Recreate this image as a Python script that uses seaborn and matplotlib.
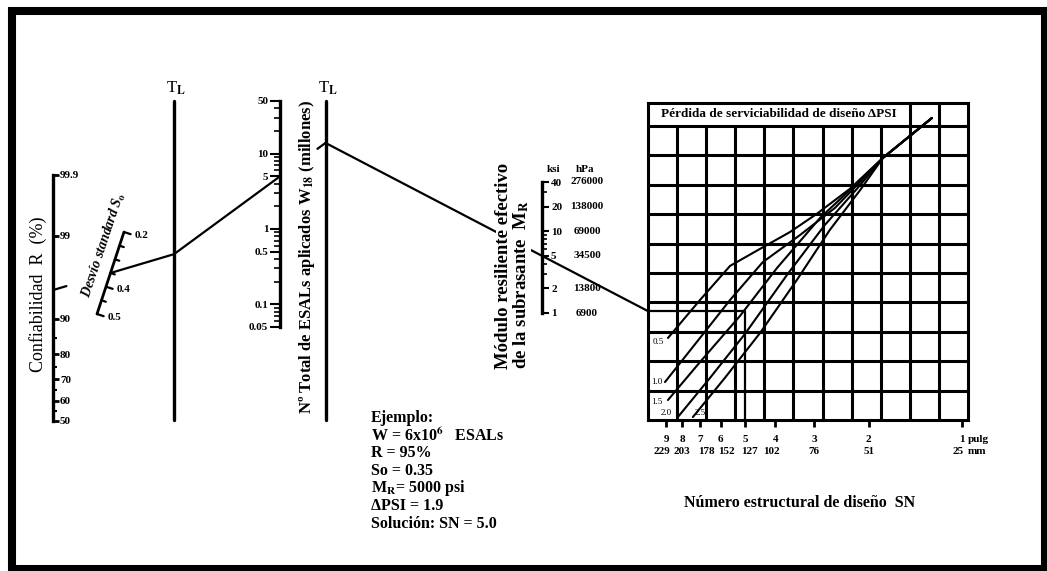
import matplotlib
matplotlib.use("Agg")
import matplotlib.pyplot as plt
import matplotlib.ticker as mticker
from matplotlib.patches import Rectangle
import numpy as np
import pandas as pd
import seaborn as sns
from statistics import NormalDist

reliability_major = [50, 60, 70, 80, 90, 99, 99.9]
reliability_minor = [55, 65, 75, 85]
so_ticks = [0.2, 0.25, 0.3, 0.35, 0.4, 0.45, 0.5]
so_labelled = [0.2, 0.4, 0.5]
esal_major = [0.05, 0.1, 0.5, 1, 5, 10, 50]
mr_ksi = [1, 2, 5, 10, 20, 40]
mr_hpa = ["6900", "13800", "34500", "69000", "138000", "276000"]
sn_ticks = [9, 8, 7, 6, 5, 4, 3, 2, 1]
sn_mm = ["229", "203", "178", "152", "127", "102", "76", "51", "25"]

# design serviceability loss curves: SN and pivot row (grid rows from bottom)
psi_levels = ["0.5", "1.0", "1.5", "2.0", "2.5"]
psi_05_sn = [8.88, 7.00, 5.60, 4.48, 3.59, 2.94, 2.30, 1.80, 1.25]
psi_05_row = [2.79, 4.08, 5.24, 5.82, 6.39, 7.01, 7.86, 8.91, 10.27]
psi_10_sn = [9.08, 7.00, 5.60, 4.39, 3.33, 2.57, 2.13, 1.80, 1.25]
psi_10_row = [1.29, 2.79, 4.08, 5.37, 6.29, 7.21, 8.10, 8.91, 10.27]
psi_15_sn = [8.88, 7.00, 5.20, 3.95, 2.87, 2.21, 1.80, 1.25]
psi_15_row = [0.68, 1.97, 3.54, 5.17, 6.87, 7.99, 8.91, 10.27]
psi_20_sn = [8.25, 6.50, 5.01, 3.67, 2.77, 2.17, 1.80, 1.25]
psi_20_row = [0.10, 1.43, 2.93, 4.93, 6.63, 7.89, 8.91, 10.27]
psi_25_sn = [7.38, 5.82, 4.48, 3.41, 2.67, 2.13, 1.80, 1.25]
psi_25_row = [0.10, 1.43, 2.96, 4.76, 6.46, 7.82, 8.91, 10.27]

# worked example
ex_R = 95
ex_So = 0.35
ex_W18 = 5        # where the drawn line crosses the ESAL scale
ex_MR = 5
ex_SN = 5.0
example_text = ["Ejemplo:", "W = 6x10$^{6}$   ESALs", "R = 95%", "So = 0.35",
                "M$_{R}$= 5000 psi", "\u0394PSI = 1.9", "Soluci\u00f3n: SN = 5.0"]

# ---- page layout (pixels) ----
W_PX, H_PX = 1047, 571
REL_X, REL_TOP, REL_BOT = 53, 175, 421
SO_P02, SO_P05 = np.array([124.0, 232.0]), np.array([97.0, 314.0])
TL1_X, TL2_X, TL_TOP = 174, 325.5, 101
ESAL_X, ESAL_TOP, ESAL_BOT = 280, 101, 327
MR_X, MR_TOP, MR_BOT = 542, 182, 313
GRID_L, GRID_T, GRID_R, GRID_B = 648, 103, 968, 420
LINE_W = 1.6
mm_offsets = [-4, 0, 6, 6, 4, -4, 0, 0, -4]   # spread of the mm label row
label_offsets = [(-10, -4), (-8, 0), (-11, -2), (-12, 4), (7, 4)]

sns.set_theme(style="white", rc={"axes.edgecolor": "black", "text.color": "black",
                                 "xtick.color": "black", "ytick.color": "black"})
plt.rcParams["font.family"] = ["Liberation Serif", "DejaVu Serif"]
plt.rcParams["font.weight"] = "bold"
plt.rcParams["mathtext.fontset"] = "stix"
plt.rcParams["mathtext.default"] = "bf"

fig = plt.figure(figsize=(W_PX / 100, H_PX / 100), dpi=100)
main = fig.add_axes([0, 0, 1, 1])
main.set_xlim(0, W_PX)
main.set_ylim(H_PX, 0)
main.axis("off")


def px_axes(left, top, right, bottom):
    a = fig.add_axes([left / W_PX, 1 - bottom / H_PX,
                      (right - left) / W_PX, (bottom - top) / H_PX])
    a.patch.set_visible(False)
    for s in a.spines.values():
        s.set_visible(False)
    return a


def on_page(ax, side, value):
    disp = ax.get_yaxis_transform().transform((side, value))
    return main.transData.inverted().transform(disp)


def at_x(p, q, x):
    return np.array([x, p[1] + (x - p[0]) * (q[1] - p[1]) / (q[0] - p[0])])


fmt_g = mticker.FuncFormatter(lambda v, _: f"{v:g}")

# ---- reliability scale (normal probability scale) ----
nd = NormalDist()
rel_fwd = np.vectorize(lambda v: nd.inv_cdf(min(max(v, 1e-6), 100 - 1e-6) / 100), otypes=[float])
rel_inv = np.vectorize(lambda v: nd.cdf(v) * 100, otypes=[float])
ax_rel = px_axes(REL_X - 1, REL_TOP, REL_X, REL_BOT)
ax_rel.set_yscale("function", functions=(rel_fwd, rel_inv))
ax_rel.set_ylim(50, 99.9)
ax_rel.set_xticks([])
ax_rel.spines["right"].set_visible(True)
ax_rel.spines["right"].set_linewidth(2.4)
ax_rel.yaxis.tick_right()
ax_rel.yaxis.set_major_locator(mticker.FixedLocator(reliability_major))
ax_rel.yaxis.set_major_formatter(fmt_g)
ax_rel.yaxis.set_minor_locator(mticker.FixedLocator(reliability_minor))
ax_rel.yaxis.set_minor_formatter(mticker.NullFormatter())
ax_rel.tick_params(axis="y", which="major", direction="out", length=4, width=2,
                   labelsize=8, pad=1, right=True, left=False)
ax_rel.tick_params(axis="y", which="minor", direction="out", length=3, width=1.5,
                   right=True, left=False)
main.text(38, 294, "Confiabilidad  R  (%)", rotation=90, ha="center", va="center",
          fontsize=13, fontweight="normal")

# ---- standard deviation scale (slanted) ----
so_dir = (SO_P05 - SO_P02) / np.linalg.norm(SO_P05 - SO_P02)
so_perp = np.array([so_dir[1], -so_dir[0]])


def so_point(s):
    return SO_P02 + (s - so_ticks[0]) / (so_ticks[-1] - so_ticks[0]) * (SO_P05 - SO_P02)


ends = np.array([so_point(so_ticks[0]), so_point(so_ticks[-1])])
main.plot(ends[:, 0], ends[:, 1], color="black", lw=2)
for s in so_ticks:
    p = so_point(s)
    ln = 7 if s in so_labelled else 4.5
    q = p + so_perp * ln
    main.plot([p[0], q[0]], [p[1], q[1]], color="black", lw=1.6)
    if s in so_labelled:
        main.text(p[0] + 11, p[1] + 3, f"{s:g}", fontsize=8, ha="left", va="center")
main.text(104, 245, "Desv\u00edo standard S$_{o}$", rotation=71.5, ha="center", va="center",
          fontsize=10, fontstyle="italic")

# ---- turning lines ----
for x in (TL1_X, TL2_X):
    main.plot([x, x], [TL_TOP, GRID_B], color="black", lw=2.4)
    main.text(x + 2, 88, r"T$_\mathrm{L}$", ha="center", va="center", fontsize=12,
              fontweight="normal")

# ---- ESAL scale ----
ax_w = px_axes(ESAL_X, ESAL_TOP, ESAL_X + 1, ESAL_BOT)
ax_w.set_yscale("log")
ax_w.set_ylim(esal_major[0], esal_major[-1])
ax_w.set_xticks([])
ax_w.spines["left"].set_visible(True)
ax_w.spines["left"].set_linewidth(2.4)
ax_w.yaxis.tick_left()
ax_w.yaxis.set_major_locator(mticker.FixedLocator(esal_major))
ax_w.yaxis.set_major_formatter(fmt_g)
ax_w.yaxis.set_minor_locator(mticker.LogLocator(base=10, subs=np.arange(1, 10), numticks=30))
ax_w.yaxis.set_minor_formatter(mticker.NullFormatter())
ax_w.tick_params(axis="y", which="major", direction="out", length=7, width=1.5,
                 labelsize=8, pad=1.5, left=True)
ax_w.tick_params(axis="y", which="minor", direction="out", length=4, width=1.2, left=True)
main.text(307, 257, "N\u00ba Total de ESALs aplicados W$_{18}$ (millones)", rotation=90,
          ha="center", va="center", fontsize=12)

# ---- resilient modulus scale ----
ax_mr = px_axes(MR_X - 1, MR_TOP, MR_X, MR_BOT)
ax_mr.set_yscale("log")
ax_mr.set_ylim(mr_ksi[0], mr_ksi[-1])
ax_mr.set_xticks([])
ax_mr.spines["right"].set_visible(True)
ax_mr.spines["right"].set_linewidth(2.4)
ax_mr.yaxis.tick_right()
ax_mr.yaxis.set_major_locator(mticker.FixedLocator(mr_ksi))
ax_mr.yaxis.set_major_formatter(fmt_g)
ax_mr.yaxis.set_minor_locator(mticker.LogLocator(base=10, subs=np.arange(1, 10), numticks=30))
ax_mr.yaxis.set_minor_formatter(mticker.NullFormatter())
ax_mr.tick_params(axis="y", which="major", direction="out", length=5, width=1.5,
                  labelsize=8, pad=1.5, right=True, left=False)
ax_mr.tick_params(axis="y", which="minor", direction="out", length=3.5, width=1.2,
                  right=True, left=False)
for v, lab in zip(mr_ksi, mr_hpa):
    ax_mr.annotate(lab, xy=(1, v), xycoords=ax_mr.get_yaxis_transform(), xytext=(45, 0),
                   textcoords="offset pixels", ha="center", va="center", fontsize=8)
ax_mr.annotate("ksi", xy=(1, mr_ksi[-1]), xycoords=ax_mr.get_yaxis_transform(), xytext=(12, 12),
               textcoords="offset pixels", ha="center", va="center", fontsize=8)
ax_mr.annotate("hPa", xy=(1, mr_ksi[-1]), xycoords=ax_mr.get_yaxis_transform(), xytext=(43, 12),
               textcoords="offset pixels", ha="center", va="center", fontsize=8)
main.text(513, 266, "M\u00f3dulo resiliente efectivo\nde la subrasante  M$_{R}$", rotation=90,
          ha="center", va="center", multialignment="left", fontsize=13.5, linespacing=0.95,
          bbox=dict(fc="white", ec="none", pad=0), zorder=5)

# ---- structural number chart ----
ax_g = px_axes(GRID_L, GRID_T, GRID_R, GRID_B)
for s in ax_g.spines.values():
    s.set_visible(True)
    s.set_linewidth(2.2)
ax_g.set_xscale("log")
ax_g.set_xlim(10.30, 0.956)
ax_g.set_ylim(0, 10.78)
ax_g.set_yticks([])
n_cols = 11
for i in range(1, n_cols):
    top = 10 if i <= 8 else 10.78
    ax_g.plot([i / n_cols, i / n_cols], [0, top], transform=ax_g.get_yaxis_transform(),
              color="black", lw=2.2)
for r in range(1, 11):
    ax_g.axhline(r, color="black", lw=2.2)
ax_g.text(4.5 / n_cols, 10.39, "P\u00e9rdida de serviciabilidad de dise\u00f1o \u0394PSI",
          transform=ax_g.get_yaxis_transform(), ha="center", va="center", fontsize=9.5)

ax_g.xaxis.set_major_locator(mticker.FixedLocator(sn_ticks))
ax_g.xaxis.set_major_formatter(fmt_g)
ax_g.xaxis.set_minor_locator(mticker.NullLocator())
ax_g.tick_params(axis="x", which="major", direction="out", length=5, width=2, bottom=True,
                 labelsize=8, pad=5.5)
for s, mm, off in zip(sn_ticks, sn_mm, mm_offsets):
    ax_g.annotate(mm, xy=(s, 0), xycoords=ax_g.get_xaxis_transform(), xytext=(off, -31),
                  textcoords="offset pixels", ha="center", va="center", fontsize=8)
ax_g.annotate("pulg", xy=(1, 0), xycoords=ax_g.get_xaxis_transform(), xytext=(6, -19),
              textcoords="offset pixels", ha="left", va="center", fontsize=8)
ax_g.annotate("mm", xy=(1, 0), xycoords=ax_g.get_xaxis_transform(), xytext=(6, -31),
              textcoords="offset pixels", ha="left", va="center", fontsize=8)

curves = pd.concat([
    pd.DataFrame({"SN": sn, "row": row, "psi": name})
    for name, sn, row in zip(psi_levels,
                             [psi_05_sn, psi_10_sn, psi_15_sn, psi_20_sn, psi_25_sn],
                             [psi_05_row, psi_10_row, psi_15_row, psi_20_row, psi_25_row])
], ignore_index=True)
sns.lineplot(data=curves, x="SN", y="row", hue="psi", palette=["black"] * len(psi_levels),
             sort=False, estimator=None, legend=False, lw=1.5, ax=ax_g)
for name, off in zip(psi_levels, label_offsets):
    first = curves[curves["psi"] == name].iloc[0]
    ax_g.annotate(name, xy=(first["SN"], first["row"]), xytext=off, textcoords="offset pixels",
                  ha="center", va="center", fontsize=6.5, fontweight="normal")
ax_g.set_xlabel("")
ax_g.set_ylabel("")

main.text(800, 503, "N\u00famero estructural de dise\u00f1o  SN", ha="center", va="center",
          fontsize=11.5)

# ---- worked example through the nomograph ----
r_pt = on_page(ax_rel, 1, ex_R)
so_pt = so_point(ex_So)
tl1_pt = at_x(r_pt, so_pt, TL1_X)
w_pt = on_page(ax_w, 0, ex_W18)
tl2_pt = at_x(tl1_pt, w_pt, TL2_X)
mr_pt = on_page(ax_mr, 1, ex_MR)
grid_pt = at_x(tl2_pt, mr_pt, GRID_L)

stub = r_pt + (so_pt - r_pt) / np.linalg.norm(so_pt - r_pt) * 14
main.plot([r_pt[0], stub[0]], [r_pt[1], stub[1]], color="black", lw=LINE_W)
main.plot([so_pt[0], tl1_pt[0], w_pt[0]], [so_pt[1], tl1_pt[1], w_pt[1]], color="black", lw=LINE_W)
stub2 = tl2_pt + (w_pt - tl2_pt) / np.linalg.norm(w_pt - tl2_pt) * 10
main.plot([stub2[0], tl2_pt[0]], [stub2[1], tl2_pt[1]], color="black", lw=LINE_W)
main.plot([tl2_pt[0], grid_pt[0]], [tl2_pt[1], grid_pt[1]], color="black", lw=LINE_W, zorder=3)

disp = main.transData.transform(grid_pt)
y_ex = ax_g.transData.inverted().transform(disp)[1]
ax_g.plot([ax_g.get_xlim()[0], ex_SN, ex_SN], [y_ex, y_ex, 0], color="black", lw=LINE_W)

for i, line in enumerate(example_text):
    main.text(371, 418 + i * 17.6, line, ha="left", va="center", fontsize=11.5)

main.add_patch(Rectangle((12, 11), 1033, 557.5, fill=False, lw=5.8, ec="black", clip_on=False))

fig.savefig("out.png", dpi=100)
